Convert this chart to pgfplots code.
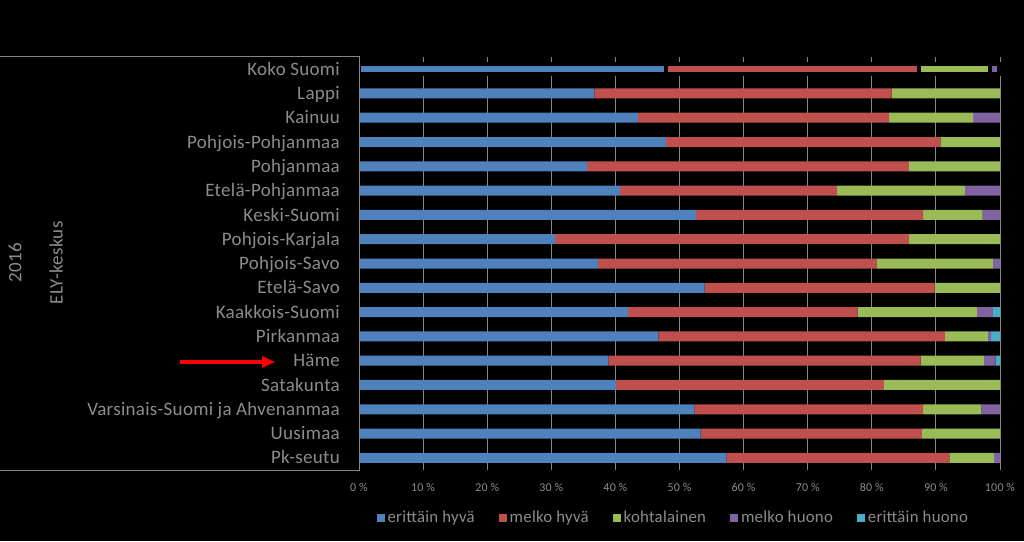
\documentclass[border=0pt]{standalone}
\usepackage{fontspec}
\setmainfont{Carlito}[LetterSpace=1.5]
\usepackage{pgfplots}
\usepackage{pgfplotstable}
\pgfplotsset{compat=1.18}
\usetikzlibrary{arrows.meta}
\definecolor{cblue}{RGB}{79,129,189}
\definecolor{cred}{RGB}{192,80,77}
\definecolor{cgreen}{RGB}{155,187,89}
\definecolor{cpurple}{RGB}{128,100,162}
\definecolor{ccyan}{RGB}{75,172,198}
\definecolor{gridgray}{RGB}{134,134,134}
\definecolor{txtgray}{RGB}{140,140,140}

\pgfplotstableread{
y a b c d e
0 57.3 34.8 7.0 0.9 0
1 53.3 34.5 12.2 0 0
2 52.3 35.7 9.1 2.9 0
3 40.1 41.8 18.1 0 0
4 38.9 48.7 9.9 1.8 0.7
5 46.7 44.7 6.7 0.5 1.4
6 42.0 35.8 18.6 2.5 1.1
7 53.9 35.9 10.2 0 0
8 37.3 43.4 18.2 1.1 0
9 30.6 55.2 14.2 0 0
10 52.6 35.4 9.3 2.7 0
11 40.7 33.9 19.9 5.5 0
12 35.6 50.2 14.2 0 0
13 47.9 42.8 9.3 0 0
14 43.5 39.2 13.1 4.2 0
15 36.7 46.4 16.9 0 0
}\regions

\pgfplotstableread{
y a b c d e
16 47.9 39.4 11.2 1.3 0.2
}\koko

\begin{document}
\begin{tikzpicture}
\useasboundingbox (0,0) rectangle (1024pt,541pt);
\fill[black] (0,0) rectangle (1024pt,541pt);

\begin{axis}[
  at={(359pt,71pt)}, anchor=south west,
  width=641pt, height=413pt, scale only axis,
  xmin=0, xmax=100, ymin=-0.5, ymax=16.5,
  xbar stacked, bar width=10pt,
  axis line style={draw=none},
  major tick length=0pt,
  xmajorgrids, grid style={draw=gridgray, line width=1pt},
  xtick={0,10,...,100},
  xticklabels={0 \%,10 \%,20 \%,30 \%,40 \%,50 \%,60 \%,70 \%,80 \%,90 \%,100 \%},
  xticklabel style={font=\fontsize{12}{14}\selectfont, text=txtgray, anchor=base, yshift=-21.5pt, inner sep=0pt},
  ytick={0,...,16},
  yticklabels={Pk-seutu,Uusimaa,Varsinais-Suomi ja Ahvenanmaa,Satakunta,Häme,Pirkanmaa,Kaakkois-Suomi,Etelä-Savo,Pohjois-Savo,Pohjois-Karjala,Keski-Suomi,Etelä-Pohjanmaa,Pohjanmaa,Pohjois-Pohjanmaa,Kainuu,Lappi,Koko Suomi},
  yticklabel style={font=\fontsize{19}{22}\selectfont, text=txtgray, anchor=base east, xshift=-19pt, yshift=-6.1pt, inner sep=0pt},
  legend columns=5,
  legend style={at={(0.491,-0.116)}, anchor=center, draw=none, fill=none,
    font=\fontsize{16.8}{19}\selectfont, text=txtgray,
    /tikz/every even column/.append style={column sep=21pt},
    nodes={inner sep=3pt}},
  legend image code/.code={\fill[#1] (0pt,-4pt) rectangle (8pt,4pt);},
]
\addplot[fill=cblue, draw=none] table[x=a, y=y] {\regions};
\addplot[fill=cred, draw=none] table[x=b, y=y] {\regions};
\addplot[fill=cgreen, draw=none] table[x=c, y=y] {\regions};
\addplot[fill=cpurple, draw=none] table[x=d, y=y] {\regions};
\addplot[fill=ccyan, draw=none] table[x=e, y=y] {\regions};
\legend{erittäin hyvä,melko hyvä,kohtalainen,melko huono,erittäin huono}
\end{axis}

\begin{axis}[
  at={(359pt,71pt)}, anchor=south west,
  width=641pt, height=413pt, scale only axis,
  xmin=0, xmax=100, ymin=-0.5, ymax=16.5,
  xbar stacked, bar width=10pt, hide axis, clip=false,
]
\addplot[fill=cblue, draw=black, line width=4pt] table[x=a, y=y] {\koko};
\addplot[fill=cred, draw=black, line width=4pt] table[x=b, y=y] {\koko};
\addplot[fill=cgreen, draw=black, line width=4pt] table[x=c, y=y] {\koko};
\addplot[fill=cpurple, draw=black, line width=4pt] table[x=d, y=y] {\koko};
\addplot[fill=ccyan, draw=black, line width=4pt] table[x=e, y=y] {\koko};
\end{axis}

\draw[gridgray, line width=1pt] (-2pt,484pt) -- (359pt,484pt) -- (359pt,71pt) -- (-2pt,71pt);
\node[rotate=90, text=txtgray, font=\fontsize{19}{22}\selectfont, inner sep=0pt] at (15pt,278pt) {2016};
\node[rotate=90, text=txtgray, font=\fontsize{19}{22}\selectfont, inner sep=0pt] at (56pt,278pt) {ELY-keskus};
\draw[red, line width=3.3pt, -{Triangle[length=13pt,width=11pt]}] (180pt,179pt) -- (275pt,179pt);
\end{tikzpicture}
\end{document}
